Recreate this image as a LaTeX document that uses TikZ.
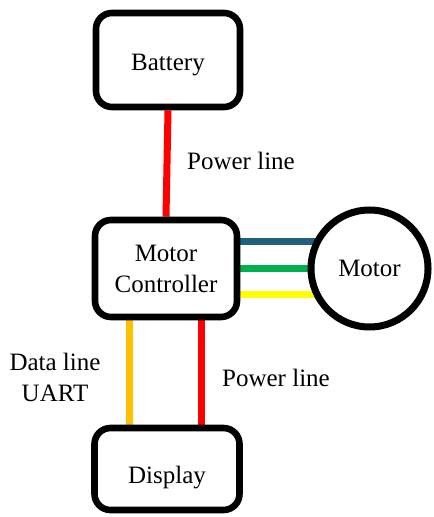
\documentclass[tikz,border=0pt]{standalone}
\usepackage{fontspec}
\setmainfont{Liberation Serif}
\usepackage{tikz}
\usetikzlibrary{backgrounds}
\definecolor{wirered}{RGB}{255,0,0}
\definecolor{wireteal}{RGB}{31,95,128}
\definecolor{wiregreen}{RGB}{0,176,80}
\definecolor{wireyellow}{RGB}{255,255,0}
\definecolor{wireorange}{RGB}{255,192,0}

\begin{document}
\begin{tikzpicture}[x=0.5pt,y=-0.5pt,
  font=\fontsize{12.5}{15.5}\selectfont,
  block/.style={draw,line width=3.3pt,rounded corners=8pt,fill=white,align=center},
  wire/.style={line width=3.5pt},
  lbl/.style={align=center}]
\useasboundingbox (0,0) rectangle (433,517);
\node[block,minimum width=72pt,minimum height=47pt,text height=13.5pt] (bat) at (168,60) {Battery};
\node[block,minimum width=71pt,minimum height=48.5pt] (mc) at (166,268.5) {Motor\\Controller};
\node[block,minimum width=72.5pt,minimum height=41pt,text height=17pt] (disp) at (167,469) {Display};
\node[draw,circle,line width=3.5pt,fill=white,minimum size=58.5pt] (motor) at (369.5,268.5) {Motor};
% wires
\begin{scope}[on background layer]
\draw[wire,wirered] (bat.south) -- (mc.north);
\draw[wire,wireteal] ([yshift=13.25pt]mc.east) -- ([yshift=13.25pt]mc.east -| motor.center);
\draw[wire,wiregreen] (mc.east) -- (motor.center);
\draw[wire,wireyellow] ([yshift=-12.75pt]mc.east) -- ([yshift=-12.75pt]mc.east -| motor.center);
\draw[wire,wireorange] ([xshift=-18.5pt]mc.south) -- ([xshift=-18.5pt]mc.south |- disp.north);
\draw[wire,wirered] ([xshift=17.5pt]mc.south) -- ([xshift=17.5pt]mc.south |- disp.north);
\end{scope}
\node[lbl] (lbltop) at (241,161) {Power line};
\node[lbl] (lbldata) at (55,377) {Data line\\UART};
\node[lbl] (lblpower) at (276,378) {Power line};
\end{tikzpicture}
\end{document}
